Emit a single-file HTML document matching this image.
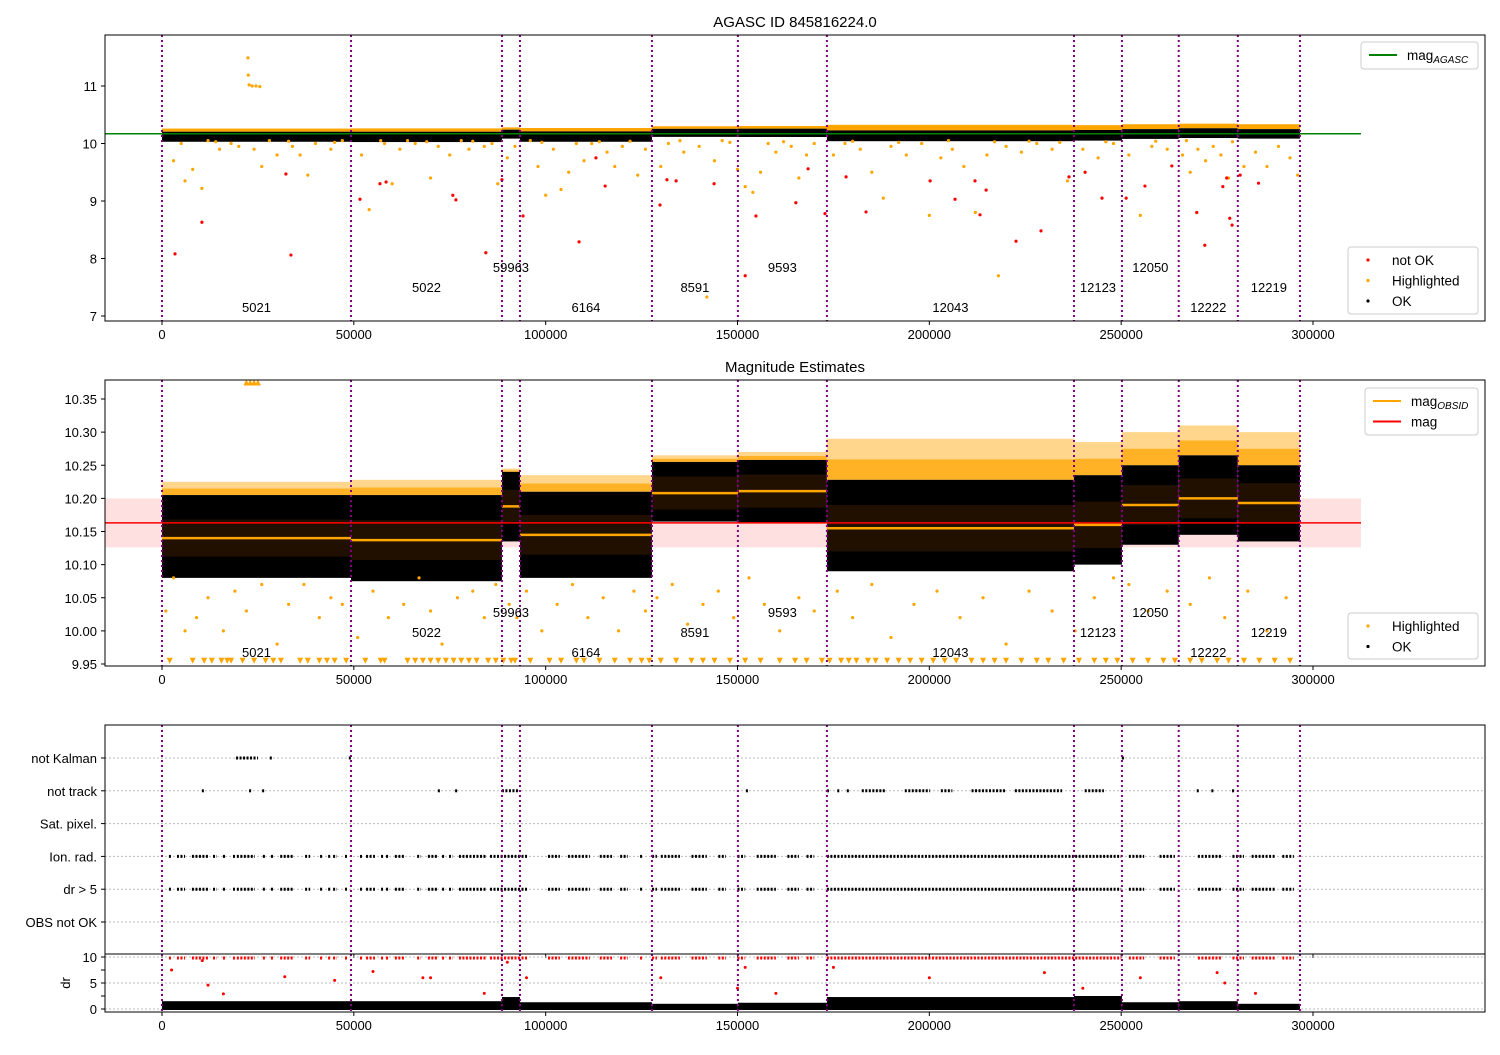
<!DOCTYPE html>
<html><head><meta charset="utf-8"><style>
body{margin:0;background:#fff}
svg{font-family:"Liberation Sans",sans-serif}
</style></head><body>
<svg id="chart" width="1500" height="1050" xmlns="http://www.w3.org/2000/svg"></svg>
<script>
// ---- data ----
const segStart=[0,49260,88610,93300,127700,150100,173300,237700,250200,265000,280400];
const segEnd=[49260,88610,93300,127700,150100,173300,237700,250200,265000,280400,296600];
const obsids=["5021","5022","59963","6164","8591","9593","12043","12123","12050","12222","12219"];
const segMean=[10.140,10.137,10.188,10.145,10.208,10.211,10.155,10.160,10.190,10.200,10.193];
const segStd=[0.028,0.030,0.025,0.030,0.025,0.025,0.035,0.035,0.030,0.030,0.030];
const segLo=[10.08,10.075,10.135,10.08,10.165,10.163,10.09,10.10,10.13,10.145,10.135];
const segHi=[10.205,10.205,10.24,10.21,10.255,10.258,10.228,10.235,10.25,10.265,10.25];
const segTop=[10.225,10.228,10.245,10.235,10.265,10.27,10.29,10.285,10.30,10.31,10.30];
const segDrMax=[1.5,1.5,2.3,1.3,1.0,1.2,2.3,2.5,1.3,1.5,1.0];
const magAgasc=10.17, magAll=10.163, magStd=0.037;
const xTicks=[0,50000,100000,150000,200000,250000,300000];
const y1Ticks=[7,8,9,10,11];
const y2Ticks=[9.95,10.00,10.05,10.10,10.15,10.20,10.25,10.30,10.35];
const flagLabels=["not Kalman","not track","Sat. pixel.","Ion. rad.","dr > 5","OBS not OK"];
const drTicks=[0,5,10];
const redX1=[3390,10400,32300,33600,51600,56800,58400,75800,76600,84400,88600,94100,108700,113100,115500,129800,131600,134000,143900,152000,154800,165200,168400,172800,178300,183500,200200,206700,211900,213200,214800,222600,229100,236400,240600,245000,251300,256200,263200,269700,271800,278300,278900,281000,285800,276500,277500];
const redY1=[8.08,8.63,9.47,8.06,9.03,9.30,9.33,9.10,9.02,8.10,9.37,8.74,8.29,9.75,9.26,8.93,9.37,9.35,9.30,7.70,8.74,8.97,9.56,8.78,9.42,8.81,9.35,9.03,9.35,8.76,9.19,8.30,8.48,9.42,9.50,9.05,9.05,9.26,9.61,8.80,8.23,8.70,8.58,9.45,9.31,9.25,9.40];
const orX1=[22400,22500,22700,23500,24500,25500,3000,5000,6000,8000,10400,12000,15000,18000,20000,24000,26000,28000,30000,34000,36000,38000,40000,44000,47000,52000,54000,58000,60000,62000,64000,66000,70000,72000,75000,78000,80000,84000,86000,87500,90000,92000,96000,98000,100000,102000,104000,106000,108000,110000,112000,116000,118000,120000,124000,126000,130000,132000,136000,140000,142000,144000,146000,150000,152000,154000,156000,158000,160000,164000,166000,168000,170000,175000,178000,182000,185000,188000,190000,194000,198000,200000,203000,206000,209000,212000,215000,218000,220000,224000,228000,232000,236000,240000,244000,248000,252000,255000,258000,262000,266000,268000,270000,272000,274000,276000,278000,282000,285000,288000,291000,294000,296000,14000,33000,45000,57000,69000,81000,99000,114000,122000,135000,148000,162000,180000,192000,205000,217000,226000,234000,246000,259000,267000,279000,287000];
const orY1=[11.49,11.19,11.02,11.0,11.0,10.99,9.7,10.0,9.35,9.55,9.22,10.05,9.9,10.0,9.95,9.9,9.6,10.05,9.8,9.95,9.8,9.45,10.0,9.9,10.05,9.8,8.85,10.0,9.3,9.9,10.05,10.0,9.4,9.95,9.8,10.05,9.9,9.95,10.0,9.3,9.75,9.95,10.05,9.6,9.1,9.9,9.2,9.5,10.0,9.7,10.0,9.85,9.6,9.95,9.45,9.9,9.6,10.0,9.85,9.95,7.33,9.7,10.05,9.55,9.25,9.15,9.5,10.0,9.85,9.95,9.4,9.8,10.0,9.8,10.0,9.9,9.5,9.05,9.95,9.8,10.0,8.75,9.75,9.9,9.6,8.8,9.8,7.7,9.95,9.85,10.0,9.9,9.35,9.9,9.75,10.0,9.8,8.75,9.95,9.9,9.8,9.5,9.9,9.7,9.95,9.8,9.4,9.6,9.85,9.6,9.95,9.75,9.45,10.03,10.04,10.02,10.05,10.03,10.04,10.02,10.03,10.04,10.05,10.02,10.03,10.04,10.02,10.05,10.03,10.04,10.02,10.03,10.04,10.05,10.03];
const orX2=[1000,3000,6000,9000,12000,16000,19000,22000,26000,30000,33000,37000,41000,44000,47000,51000,55000,59000,63000,67000,70000,73000,77000,81000,84000,87000,90500,92500,95000,99000,103000,107000,111000,115000,119000,123000,126000,129000,133000,137000,141000,145000,149000,153000,157000,161000,166000,170000,176000,180000,185000,190000,196000,202000,208000,214000,220000,226000,232000,238000,243000,248000,252000,257000,262000,268000,273000,277000,283000,288000,293000];
const orY2=[10.03,10.08,10.0,10.02,10.05,10.0,10.06,10.03,10.07,9.98,10.04,10.07,10.02,10.05,10.04,9.99,10.06,10.02,10.04,10.08,10.03,9.98,10.05,10.06,10.02,10.07,10.04,10.02,10.06,10.0,10.04,10.07,10.02,10.05,10.0,10.06,10.03,10.05,10.07,10.01,10.04,10.06,10.02,10.08,10.04,10.0,10.05,10.03,10.06,10.02,10.07,9.99,10.04,10.06,10.02,10.05,9.98,10.06,10.03,10.0,10.05,10.08,10.07,10.03,10.06,10.04,10.08,10.02,10.06,10.0,10.05];
const triLowX=[2000,8000,11000,13000,15500,17000,18000,21000,24000,27000,29000,31000,36000,38000,41000,43000,45000,48000,53000,57000,58000,64000,66000,68000,70000,72000,74000,76000,78000,80000,82000,85000,87000,89000,91000,92000,96000,101000,104000,108000,110000,114000,118000,122000,125000,127000,130000,134000,138000,141000,144000,148000,152000,156000,161000,165000,168000,172000,174000,177000,179000,181000,184000,186000,189000,192000,195000,198000,201000,204000,207000,211000,214000,217000,220000,224000,228000,231000,235000,239000,243000,246000,249000,253000,257000,261000,264000,268000,271000,275000,278000,282000,286000,290000,294000];
const triHighX=[22000,23000,24000,25000];
const ionIntervals=[[1800,1900],[3900,6000],[7800,12000],[13300,14300],[15900,16000],[18500,18600],[19500,24200],[26300,26400],[28400,29200],[30800,34100],[37300,38600],[41200,41300],[43300,43400],[44600,45600],[47700,48500],[51600,51700],[53200,55500],[57100,57200],[58400,58500],[60700,63300],[66500,67500],[69300,71700],[73000,73800],[74800,75800],[77400,84700],[85500,95400],[100600,103700],[105800,111500],[114100,117300],[119400,121400],[124600,124700],[127700,129000],[130000,135000],[138000,142000],[145000,147000],[150000,152000],[155000,160000],[163000,166000],[168000,170000],[173300,237700],[238000,250000],[252000,256000],[260000,264000],[270000,276000],[279000,282000],[284000,290000],[292000,295000]];
const drIntervals=ionIntervals;
const trackIntervals=[[10400,10500],[22700,22800],[26100,26200],[71900,72000],[76400,76500],[88600,92800],[152200,152300],[173300,174000],[176000,176500],[178500,179000],[182400,188400],[193600,200200],[203000,206000],[211000,220000],[222300,234600],[240500,245500],[269700,270200],[273500,274000],[278900,279000]];
const kalmanIntervals=[[19300,25000],[28100,28200],[48700,49500],[250200,250300]];
const drRedX=[2500,10500,12000,16000,32000,45000,55000,68000,70000,84000,90000,95000,130000,150000,152000,160000,175000,200000,230000,240000,255000,275000,277000,285000];
const drRedY=[7.5,9.3,4.6,2.9,6.2,5.5,7.2,6,6,3,9,6,6,4,8,3,8,6,7,4,6,7,5,3];

// ---- scales ----
const X=v=>162+v*0.0038367;
const Y1=v=>86+(11-v)*57.5;
const Y2=v=>399+(10.35-v)*662.5;
const YF=i=>758+i*32.8;
const YD=v=>1009-v*5.2;
const L=105,R=1485;
const svg=document.getElementById('chart');
const NS='http://www.w3.org/2000/svg';
function el(tag,attrs,parent,txt){const e=document.createElementNS(NS,tag);for(const k in attrs)e.setAttribute(k,attrs[k]);if(txt!==undefined)e.textContent=txt;(parent||svg).appendChild(e);return e;}
const defs=el('defs',{});
[['c1',35,286],['c2',380,286],['c3',725,229],['c4',954,58]].forEach(c=>{const cp=el('clipPath',{id:c[0]},defs);el('rect',{x:L,y:c[1],width:R-L,height:c[2]},cp);});
function group(name,clip){const g=el('g',clip?{'clip-path':'url(#'+clip+')'}:{});return g;}
function vlines(g,top,bot){segStart.concat([segEnd[segEnd.length-1]]).forEach(v=>{const l=el('line',{x1:X(v),x2:X(v),y1:top,y2:bot,stroke:'#800080','stroke-width':2,'stroke-dasharray':'2,3'},g);});}
function xaxis(bot,labels){const g=group('x-axis');xTicks.forEach(t=>{el('line',{x1:X(t),x2:X(t),y1:bot,y2:bot+4,stroke:'#000'},g);if(labels){const tx=el('text',{x:X(t),y:bot+18,'font-size':13,'text-anchor':'middle'},g,String(t));}});}
function frame(top,h,name){const r=el('rect',{x:L,y:top,width:R-L,height:h,fill:'none',stroke:'#000','stroke-width':1});}
function labelsObs(g,base){obsids.forEach((o,i)=>{const lv=i%3;const t=el('text',{x:X((segStart[i]+segEnd[i])/2),y:base-lv*20,'font-size':13,'text-anchor':'middle'},g,o);});}
function dot(g,x,y,c,r){const d=el('circle',{cx:x,cy:y,r:r||1.6,fill:c},g);return d;}

// ===== Panel 1 =====
const t1=el('text',{x:795,y:27,'font-size':15,'text-anchor':'middle'},svg,'AGASC ID 845816224.0');

const g1=group('panel-agasc','c1');
segStart.forEach((s,i)=>{
  el('rect',{x:X(s),y:Y1(segTop[i])-2,width:X(segEnd[i])-X(s),height:Y1(segHi[i])-Y1(segTop[i])+2,fill:'orange'},g1);
  const b=el('rect',{x:X(s),y:Y1(segHi[i]),width:X(segEnd[i])-X(s),height:Y1(segLo[i]-0.05)-Y1(segHi[i]),fill:'#000'},g1);
  
});
orX1.forEach((v,i)=>dot(g1,X(v),Y1(orY1[i]),'orange'));
redX1.forEach((v,i)=>dot(g1,X(v),Y1(redY1[i]),'red'));
const ga=el('line',{x1:L,x2:X(312500),y1:Y1(magAgasc),y2:Y1(magAgasc),stroke:'green','stroke-width':1.5},g1);

vlines(g1,35,321);labelsObs(g1,312);
frame(35,286,'panel-agasc-frame');
(function(){const g=group('y-axis-top');y1Ticks.forEach(t=>{el('line',{x1:L-4,x2:L,y1:Y1(t),y2:Y1(t),stroke:'#000'},g);el('text',{x:L-8,y:Y1(t)+5,'font-size':13,'text-anchor':'end'},g,String(t));});})();
xaxis(321,true);

// ===== Panel 2 =====
const t2=el('text',{x:795,y:372,'font-size':15,'text-anchor':'middle'},svg,'Magnitude Estimates');

const g2=group('panel-mag-estimates','c2');
const band=el('rect',{x:L,y:Y2(magAll+magStd),width:X(312500)-L,height:Y2(magAll-magStd)-Y2(magAll+magStd),fill:'rgba(255,0,0,0.12)'},g2);

segStart.forEach((s,i)=>{
  const w=X(segEnd[i])-X(s);
  const mid=(segHi[i]+segTop[i])/2;
  el('rect',{x:X(s),y:Y2(segTop[i]),width:w,height:Y2(mid)-Y2(segTop[i]),fill:'orange','fill-opacity':0.45},g2);
  el('rect',{x:X(s),y:Y2(mid),width:w,height:Y2(segHi[i])-Y2(mid),fill:'orange','fill-opacity':0.85},g2);
  el('rect',{x:X(s),y:Y2(segHi[i]),width:w,height:Y2(segLo[i])-Y2(segHi[i]),fill:'#000'},g2);
  el('rect',{x:X(s),y:Y2(segMean[i]+segStd[i]),width:w,height:Y2(segMean[i]-segStd[i])-Y2(segMean[i]+segStd[i]),fill:'rgba(255,120,0,0.13)'},g2);
});
orX2.forEach((v,i)=>dot(g2,X(v),Y2(orY2[i]),'orange'));
triLowX.forEach(v=>{const x=X(v),y=Y2(9.955);el('polygon',{points:`${x-3},${y-3} ${x+3},${y-3} ${x},${y+3}`,fill:'orange'},g2);});
triHighX.forEach(v=>{const x=X(v),y=Y2(10.375);el('polygon',{points:`${x-3},${y+3} ${x+3},${y+3} ${x},${y-3}`,fill:'orange'},g2);});
const rl=el('line',{x1:L,x2:X(312500),y1:Y2(magAll),y2:Y2(magAll),stroke:'red','stroke-width':1.5},g2);

segStart.forEach((s,i)=>{const m=el('line',{x1:X(s),x2:X(segEnd[i]),y1:Y2(segMean[i]),y2:Y2(segMean[i]),stroke:'orange','stroke-width':2.5},g2);});
vlines(g2,380,666);labelsObs(g2,657);
frame(380,286,'panel-mag-frame');
(function(){const g=group('y-axis-mid');y2Ticks.forEach(t=>{el('line',{x1:L-4,x2:L,y1:Y2(t),y2:Y2(t),stroke:'#000'},g);el('text',{x:L-8,y:Y2(t)+5,'font-size':13,'text-anchor':'end'},g,t.toFixed(2));});})();
xaxis(666,true);

// ===== Panel 3 flags =====
const g3=group('panel-flags','c3');
flagLabels.forEach((f,i)=>{el('line',{x1:L,x2:R,y1:YF(i),y2:YF(i),stroke:'#bbb','stroke-dasharray':'2,2','stroke-width':1},g3);});
function drawIntervals(list,row){list.forEach(iv=>{const x1=X(iv[0]),x2=Math.max(X(iv[1]),x1+2);const l=el('line',{x1:x1,x2:x2,y1:YF(row),y2:YF(row),stroke:'#000','stroke-width':3,'stroke-dasharray':'2,1.5'},g3);});}
drawIntervals(kalmanIntervals,0);drawIntervals(trackIntervals,1);drawIntervals(ionIntervals,3);drawIntervals(drIntervals,4);
vlines(g3,725,954);
frame(725,229,'panel-flags-frame');
(function(){const g=group('flag-axis');flagLabels.forEach((f,i)=>{el('line',{x1:L-4,x2:L,y1:YF(i),y2:YF(i),stroke:'#000'},g);el('text',{x:L-8,y:YF(i)+5,'font-size':13,'text-anchor':'end'},g,f);});})();
xaxis(954,false);

// ===== dr panel =====
const g4=group('panel-dr','c4');
[0,5,10].forEach(v=>el('line',{x1:L,x2:R,y1:YD(v),y2:YD(v),stroke:'#bbb','stroke-dasharray':'2,2'},g4));
segStart.forEach((s,i)=>{const r=el('rect',{x:X(s),y:YD(segDrMax[i]),width:X(segEnd[i])-X(s),height:YD(0)-YD(segDrMax[i])+1,fill:'#000'},g4);});
drIntervals.forEach(iv=>{const x1=X(iv[0]),x2=Math.max(X(iv[1]),x1+2);el('line',{x1:x1,x2:x2,y1:YD(9.8),y2:YD(9.8),stroke:'red','stroke-width':3,'stroke-dasharray':'2,1.5'},g4);});
drRedX.forEach((v,i)=>dot(g4,X(v),YD(drRedY[i]),'red',1.5));
vlines(g4,954,1012);
frame(954,58,'panel-dr-frame');
(function(){const g=group('dr-axis');[0,2.5,5,7.5,10].forEach(t=>el('line',{x1:L-4,x2:L,y1:YD(t),y2:YD(t),stroke:'#000'},g));drTicks.forEach(t=>el('text',{x:L-8,y:YD(t)+5,'font-size':13,'text-anchor':'end'},g,String(t)));
const yl=el('text',{x:70,y:983,'font-size':13,'text-anchor':'middle',transform:'rotate(-90 70 983)'},g,'dr');})();
xaxis(1012,true);

// ===== legends =====
function legend(x,y,w,h,items,name){const g=group(name);el('rect',{x:x,y:y,width:w,height:h,rx:3,fill:'#fff',stroke:'#ccc'},g);
items.forEach((it,i)=>{const cy=y+13+i*20.5;const ge=el('g',{},g);
 if(it.t==='line')el('line',{x1:x+8,x2:x+36,y1:cy,y2:cy,stroke:it.c,'stroke-width':2},ge);else el('circle',{cx:x+20,cy:cy,r:1.6,fill:it.c},ge);
 const tx=el('text',{x:x+(it.t==='line'?46:44),y:cy+5,'font-size':13.5},ge,it.l);if(it.s){el('tspan',{'font-size':10,'font-style':'italic',dy:3},tx,it.s);}});}
legend(1361,42,117,27,[{t:'line',c:'green',l:'mag',s:'AGASC'}],'legend-agasc');
legend(1348,247,130,67,[{t:'dot',c:'red',l:'not OK'},{t:'dot',c:'orange',l:'Highlighted'},{t:'dot',c:'#000',l:'OK'}],'legend-status-top');
legend(1365,388,113,47,[{t:'line',c:'orange',l:'mag',s:'OBSID'},{t:'line',c:'red',l:'mag'}],'legend-mag');
legend(1348,613,130,46,[{t:'dot',c:'orange',l:'Highlighted'},{t:'dot',c:'#000',l:'OK'}],'legend-status-mid');
</script>
</body></html>
